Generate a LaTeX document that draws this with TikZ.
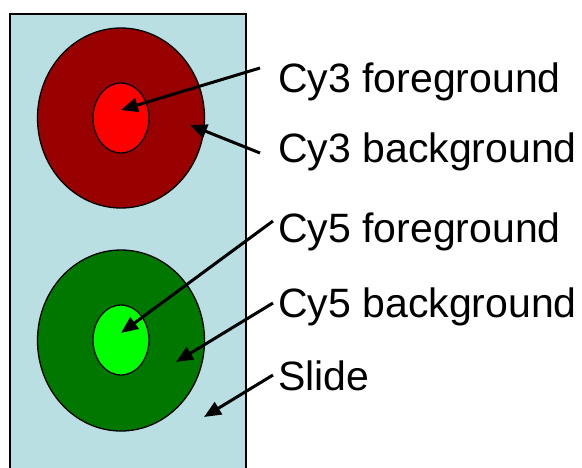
\documentclass[tikz,border=0pt]{standalone}
\usepackage{fontspec}
\setmainfont{Liberation Sans}
\usetikzlibrary{arrows.meta}
\definecolor{slidebg}{RGB}{186,223,227}
\definecolor{darkred}{RGB}{153,0,0}
\definecolor{brightred}{RGB}{255,0,0}
\definecolor{darkgreen}{RGB}{0,120,0}
\definecolor{brightgreen}{RGB}{0,255,0}
\tikzset{
  lbl/.style={anchor=base west, inner sep=0pt, font=\fontsize{41}{49}\selectfont},
  ptr/.style={line width=3pt, -{Triangle[length=17pt,width=14pt]}},
  spot/.style={draw=black, line width=1.3pt}
}
\begin{document}
\begin{tikzpicture}[x=1pt,y=-1pt]
\useasboundingbox (0,0) rectangle (582,467);
\clip (0,0) rectangle (582,467);
% slide
\draw[fill=slidebg, line width=1.5pt] (10,14) rectangle (246,490);
% Cy3 spot
\draw[spot, fill=darkred] (121,118) ellipse [x radius=83.5, y radius=90];
\draw[spot, fill=brightred] (121,118) ellipse [x radius=28, y radius=35];
% Cy5 spot
\draw[spot, fill=darkgreen] (121,340.5) ellipse [x radius=83.5, y radius=90.5];
\draw[spot, fill=brightgreen] (121,340) ellipse [x radius=28, y radius=35];
% labels
\node[lbl] (l1) at (278,92) {Cy3 foreground};
\node[lbl] (l2) at (278,162) {Cy3 background};
\node[lbl] (l3) at (278,242) {Cy5 foreground};
\node[lbl] (l4) at (278,317) {Cy5 background};
\node[lbl] (l5) at (278,390) {Slide};
% arrow ends
\coordinate (s1) at (260,68);
\coordinate (s2) at (260,153);
\coordinate (s3) at (273,221);
\coordinate (s4) at (273,303);
\coordinate (s5) at (273,375);
\coordinate (t1) at (121,110);
\coordinate (t2) at (190,125);
\coordinate (t3) at (121,333);
\coordinate (t4) at (176,362);
\coordinate (t5) at (204,417);
\draw[ptr] (s1) -- (t1);
\draw[ptr] (s2) -- (t2);
\draw[ptr] (s3) -- (t3);
\draw[ptr] (s4) -- (t4);
\draw[ptr] (s5) -- (t5);
\end{tikzpicture}
\end{document}
